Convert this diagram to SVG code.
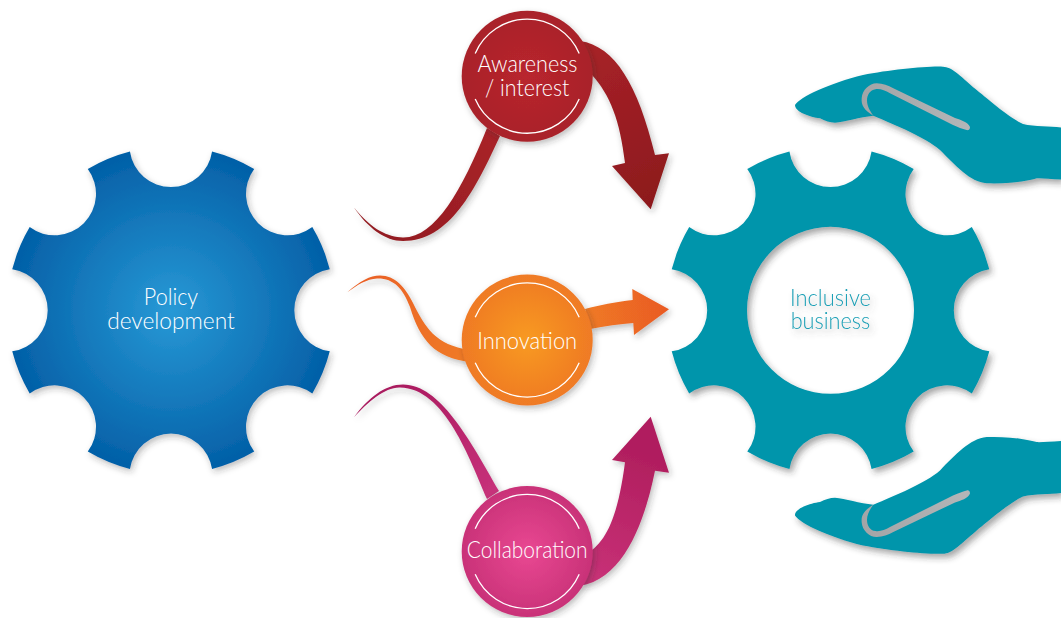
<svg xmlns="http://www.w3.org/2000/svg" xmlns:xlink="http://www.w3.org/1999/xlink" width="1061" height="618" viewBox="0 0 1061 618">
<style>
text{font-family:"Lato","Open Sans","Liberation Sans",sans-serif;font-weight:300;text-anchor:middle;font-size:22.5px}
.lt{fill:#fff}
.ring{fill:none;stroke:#fff;stroke-width:1.3}
.teal{fill:#0095ab}
.thumb{fill:url(#gThumb)}
</style>
<defs>
<filter id="sh" x="-20%" y="-20%" width="150%" height="150%"><feDropShadow dx="3" dy="4" stdDeviation="3" flood-color="#333" flood-opacity=".42"/></filter>
<filter id="shL" x="-20%" y="-20%" width="150%" height="150%"><feDropShadow dx="2" dy="3" stdDeviation="3" flood-color="#333" flood-opacity=".3"/></filter>
<filter id="shT" x="-20%" y="-30%" width="150%" height="170%"><feDropShadow dx="3" dy="4" stdDeviation="3" flood-color="#555" flood-opacity=".4"/></filter>
<radialGradient id="gBlue"><stop offset="0" stop-color="#2899d6"/><stop offset="1" stop-color="#0461a8"/></radialGradient>
<radialGradient id="gRed"><stop offset="0" stop-color="#b9252e"/><stop offset="1" stop-color="#a92329"/></radialGradient>
<radialGradient id="gOrange"><stop offset="0" stop-color="#f89a20"/><stop offset="1" stop-color="#ef7a25"/></radialGradient>
<radialGradient id="gPink"><stop offset="0" stop-color="#e94892"/><stop offset="1" stop-color="#c93278"/></radialGradient>
<linearGradient id="gRedA" gradientUnits="userSpaceOnUse" x1="580" y1="40" x2="650" y2="210"><stop offset="0" stop-color="#a82228"/><stop offset="1" stop-color="#8c191d"/></linearGradient>
<linearGradient id="gRedT" gradientUnits="userSpaceOnUse" x1="495" y1="130" x2="354" y2="240"><stop offset="0" stop-color="#a92329"/><stop offset="1" stop-color="#8f1a1f"/></linearGradient>
<linearGradient id="gOrA" gradientUnits="userSpaceOnUse" x1="585" y1="320" x2="669" y2="309"><stop offset="0" stop-color="#f07b25"/><stop offset="1" stop-color="#e95a24"/></linearGradient>
<linearGradient id="gOrT" gradientUnits="userSpaceOnUse" x1="347" y1="292" x2="470" y2="355"><stop offset="0" stop-color="#e95f25"/><stop offset="1" stop-color="#f07b25"/></linearGradient>
<linearGradient id="gPkA" gradientUnits="userSpaceOnUse" x1="585" y1="585" x2="640" y2="450"><stop offset="0" stop-color="#c93278"/><stop offset="1" stop-color="#b01e5e"/></linearGradient>
<linearGradient id="gPkT" gradientUnits="userSpaceOnUse" x1="492" y1="495" x2="390" y2="385"><stop offset="0" stop-color="#c7317a"/><stop offset="1" stop-color="#a91a5e"/></linearGradient>
<linearGradient id="gThumb" gradientUnits="userSpaceOnUse" x1="862" y1="100" x2="970" y2="128"><stop offset="0" stop-color="#a3a5a7"/><stop offset="1" stop-color="#b4b6b8"/></linearGradient>
<path id="ringT" class="ring" d="M-52,-22.8A56.6 56.6 0 0 1 52,-22.8"/>
<path id="ringB" class="ring" d="M-52,22.8A56.6 56.6 0 0 0 52,22.8"/>
<path id="hand" d="M795,105C800,97 830,83 863,75C890,70 925,66 943,66.7C952,67 958,74 976.7,90C990,101 1010,118 1023,124C1035,127 1050,126 1061,127.5L1061,179.5C1050,179 1042,178 1036.7,178.3C1025,182 1005,184 986.7,183.3C970,182 955,165 940,150C925,137 895,125 873.3,115.7C860,117 845,122 835,122.7C830,122.7 825,121 820,118.3C810,117 795,112 795,105Z"/>
<path id="thumb" d="M873.3,115.7C864,110 861,105 861.7,98C862.5,90 869,83.5 876.7,83.3C883,83.3 888,85.5 893.3,88.3L955,118C961,120 968,122 970,127C970,130 968,130.5 966.7,130C962,129 958,127 953,125L890,93.3C885,90.5 880,88.5 875.5,89.3C870,90 867,95 867,100.5C867,106 870,111 873.3,115.7Z"/>
</defs>
<rect width="1061" height="618" fill="#fff"/>
<g id="connectors" filter="url(#shL)">
<path fill="url(#gRedT)" d="M354,207.5C372,230 388,237 403,237.5C435,238 462,190 487,128L500,136C475,190 450,241 403,241C385,241 368,228 354,207.5Z"/>
<path fill="url(#gRedA)" d="M580,41C615,46 638,85 655,155L669,153.3L650.7,209.3L612,166L625,163C620,120 610,95 592,75Z"/>
<path fill="url(#gOrT)" d="M347.3,292.3C360,281 370,275.5 380,275.5C395,275.5 405,287 413,303C425,327 435,345 470,350L470,362C435,358 420,340 410,307C403,288 393,278 377,278.5C367,279 357,285 347.3,292.3Z"/>
<path fill="url(#gOrA)" d="M585,309C600,305 615,302 632.7,300L632.3,289L669,309.3L634,335L633.3,323C620,324 605,326 590,329Z"/>
<path fill="url(#gPkT)" d="M354,417.3C368,398 385,384.5 403,384.5C440,384.5 470,440 499,491L487,499C470,460 445,388 400,387.5C385,387 368,402 354,417.3Z"/>
<path fill="url(#gPkA)" d="M650.7,416.7L669,472.7L655,470.7C645,520 625,578 580,586L592,550C612,535 620,500 625,462.3L612,460Z"/>
</g>
<g id="policy-development">
<path filter="url(#shL)" fill="url(#gBlue)" transform="translate(171,310.3)" d="M-41.06,-158.78A41.5 41.5 0 0 0 41.06,-158.78A164 164 0 0 1 83.23,-141.31A41.5 41.5 0 0 0 141.31,-83.23A164 164 0 0 1 158.78,-41.06A41.5 41.5 0 0 0 158.78,41.06A164 164 0 0 1 141.31,83.23A41.5 41.5 0 0 0 83.23,141.31A164 164 0 0 1 41.06,158.78A41.5 41.5 0 0 0 -41.06,158.78A164 164 0 0 1 -83.23,141.31A41.5 41.5 0 0 0 -141.31,83.23A164 164 0 0 1 -158.78,41.06A41.5 41.5 0 0 0 -158.78,-41.06A164 164 0 0 1 -141.31,-83.23A41.5 41.5 0 0 0 -83.23,-141.31A164 164 0 0 1 -41.06,-158.78Z"/>
<text class="lt" x="171" y="305.3" textLength="54.3" lengthAdjust="spacingAndGlyphs">Policy</text>
<text class="lt" x="171" y="329" textLength="127.7" lengthAdjust="spacingAndGlyphs">development</text>
</g>
<g id="inclusive-business">
<path filter="url(#sh)" class="teal" fill-rule="evenodd" transform="translate(830.5,310.3)" d="M-41.06,-158.78A41.5 41.5 0 0 0 41.06,-158.78A164 164 0 0 1 83.23,-141.31A41.5 41.5 0 0 0 141.31,-83.23A164 164 0 0 1 158.78,-41.06A41.5 41.5 0 0 0 158.78,41.06A164 164 0 0 1 141.31,83.23A41.5 41.5 0 0 0 83.23,141.31A164 164 0 0 1 41.06,158.78A41.5 41.5 0 0 0 -41.06,158.78A164 164 0 0 1 -83.23,141.31A41.5 41.5 0 0 0 -141.31,83.23A164 164 0 0 1 -158.78,41.06A41.5 41.5 0 0 0 -158.78,-41.06A164 164 0 0 1 -141.31,-83.23A41.5 41.5 0 0 0 -83.23,-141.31A164 164 0 0 1 -41.06,-158.78ZM-83.5,0A83.5 83.5 0 0 0 83.5,0A83.5 83.5 0 0 0 -83.5,0Z"/>
<g filter="url(#shT)" fill="#1a9fb5">
<text x="830.5" y="305.7" textLength="81" lengthAdjust="spacingAndGlyphs">Inclusive</text>
<text x="830.5" y="329" textLength="79.7" lengthAdjust="spacingAndGlyphs">business</text>
</g>
</g>
<g id="hand-top">
<g filter="url(#sh)"><use xlink:href="#hand" href="#hand" class="teal"/></g>
<use xlink:href="#thumb" href="#thumb" class="thumb"/>
</g>
<g id="hand-bottom">
<g filter="url(#sh)"><g transform="translate(0,620.4) scale(1,-1)"><use xlink:href="#hand" href="#hand" class="teal"/></g></g>
<g transform="translate(0,620.4) scale(1,-1)"><use xlink:href="#thumb" href="#thumb" class="thumb"/></g>
</g>
<g id="awareness-interest">
<circle filter="url(#shL)" cx="527.2" cy="76.2" r="65.5" fill="url(#gRed)"/>
<g transform="translate(527.2,76.2)"><use xlink:href="#ringT" href="#ringT"/><use xlink:href="#ringB" href="#ringB"/></g>
<text class="lt" x="527.5" y="71.7" textLength="100" lengthAdjust="spacingAndGlyphs">Awareness</text>
<text class="lt" x="527.2" y="95.7" textLength="84.3" lengthAdjust="spacingAndGlyphs">/ interest</text>
</g>
<g id="innovation">
<circle filter="url(#shL)" cx="527.2" cy="340" r="65.5" fill="url(#gOrange)"/>
<g transform="translate(527.2,340)"><use xlink:href="#ringT" href="#ringT"/><use xlink:href="#ringB" href="#ringB"/></g>
<text class="lt" x="527.2" y="349" textLength="100" lengthAdjust="spacingAndGlyphs">Innovation</text>
</g>
<g id="collaboration">
<circle filter="url(#shL)" cx="527.2" cy="551.5" r="65.5" fill="url(#gPink)"/>
<g transform="translate(527.2,551.5)"><use xlink:href="#ringT" href="#ringT"/><use xlink:href="#ringB" href="#ringB"/></g>
<text class="lt" x="527.2" y="558.3" textLength="120.7" lengthAdjust="spacingAndGlyphs">Collaboration</text>
</g>
</svg>
